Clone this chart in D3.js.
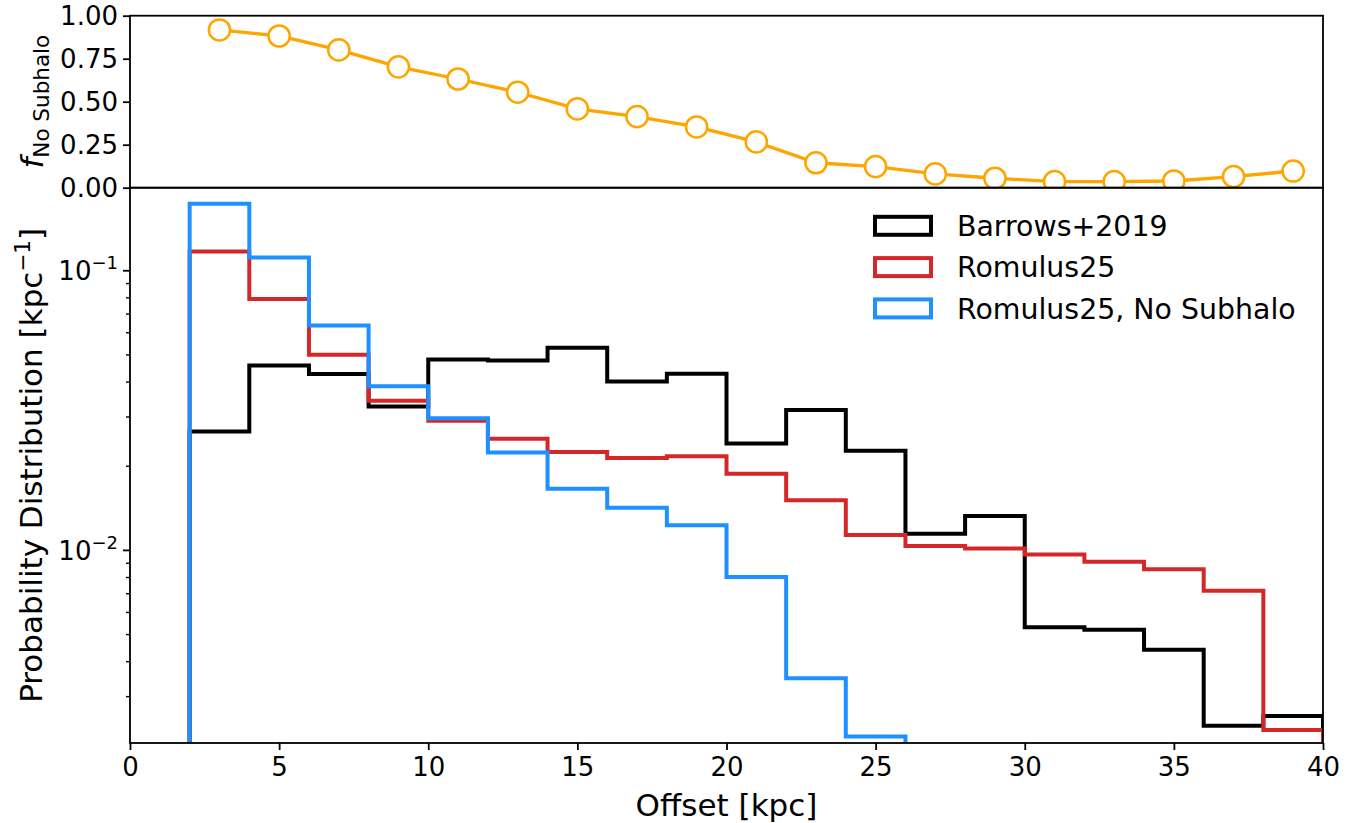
<!DOCTYPE html>
<html>
<head>
<meta charset="utf-8">
<script src="https://cdn.jsdelivr.net/npm/d3@7"></script>
<style>
  body { margin: 0; background: #fff; }
  text { font-family: "DejaVu Sans", sans-serif; fill: #000; }
</style>
</head>
<body>
<svg id="chart" width="1348" height="823"></svg>
<script>
// Histogram bin edges (kpc) and per-bin probability densities (kpc^-1)
const binEdges = [2, 4, 6, 8, 10, 12, 14, 16, 18, 20, 22, 24, 26, 28, 30, 32, 34, 36, 38, 40];
const barrows2019 = [0.0266, 0.0458, 0.0427, 0.0327, 0.0482, 0.0478, 0.0530, 0.0402, 0.0428, 0.0241,
                     0.0318, 0.0227, 0.01146, 0.01328, 0.00531, 0.00520, 0.00441, 0.00236, 0.00256];
const romulus25 = [0.1172, 0.0792, 0.0501, 0.0343, 0.0291, 0.0251, 0.0225, 0.0214, 0.0217, 0.0188,
                   0.0151, 0.01136, 0.01038, 0.01015, 0.00966, 0.00910, 0.00857, 0.00718, 0.00228];
const romulus25NoSub = [0.1737, 0.1116, 0.0637, 0.0386, 0.0297, 0.0224, 0.0166, 0.0142, 0.0123, 0.00804,
                        0.00349, 0.00216, 0, 0, 0, 0, 0, 0, 0];

// Fraction of systems with no subhalo, per bin centre
const fracCenters = [3, 5, 7, 9, 11, 13, 15, 17, 19, 21, 23, 25, 27, 29, 31, 33, 35, 37, 39];
const fracNoSubhalo = [0.917, 0.882, 0.801, 0.703, 0.632, 0.555, 0.458, 0.413, 0.353, 0.266,
                       0.145, 0.122, 0.080, 0.055, 0.035, 0.035, 0.039, 0.064, 0.097];

const xTicks = [0, 5, 10, 15, 20, 25, 30, 35, 40];
const fracTicks = [0, 0.25, 0.5, 0.75, 1.0];
const logMajorTicks = [0.1, 0.01];
const seriesNames = ["Barrows+2019", "Romulus25", "Romulus25, No Subhalo"];
const seriesColors = ["#000000", "#d62728", "#1e90ff"];
const fracColor = "#ffa500";

const svg = d3.select("#chart");
const left = 130, right = 1323;
const topY0 = 15.7, topY1 = 187.7;     // upper panel
const botY0 = 187.7, botY1 = 743;      // lower panel
const tickFont = 26, labelFont = 31, legendFont = 28.4;

const x = d3.scaleLinear().domain([0, 40]).range([left, right]);
const yFrac = d3.scaleLinear().domain([0, 1]).range([topY1, topY0]);
const yProb = d3.scaleLog().domain([Math.pow(10, -2.6887), Math.pow(10, -0.703)]).range([botY1, botY0]);

// clip regions
const defs = svg.append("defs");
defs.append("clipPath").attr("id", "clipTop")
  .append("rect").attr("x", left).attr("y", topY0).attr("width", right - left).attr("height", topY1 - topY0);
defs.append("clipPath").attr("id", "clipBot")
  .append("rect").attr("x", left).attr("y", botY0).attr("width", right - left).attr("height", botY1 - botY0);

// ---------- lower panel: step histograms ----------
const histData = [barrows2019, romulus25, romulus25NoSub];
const yOf = v => v > 0 ? yProb(v) : botY1 + 20;
function stepPath(vals) {
  const pts = [[x(binEdges[0]), botY1 + 20]];
  vals.forEach((v, i) => {
    pts.push([x(binEdges[i]), yOf(v)]);
    pts.push([x(binEdges[i + 1]), yOf(v)]);
  });
  pts.push([x(binEdges[binEdges.length - 1]), botY1 + 20]);
  return d3.line()(pts);
}
const histG = svg.append("g").attr("clip-path", "url(#clipBot)");
histData.forEach((vals, i) => {
  histG.append("path")
    .attr("d", stepPath(vals))
    .attr("fill", "none")
    .attr("stroke", seriesColors[i])
    .attr("stroke-width", 4)
    .attr("stroke-linejoin", "miter");
});

// ---------- upper panel: fraction without subhalo ----------
const topG = svg.append("g").attr("clip-path", "url(#clipTop)");
topG.append("path")
  .datum(fracCenters.map((c, i) => [c, fracNoSubhalo[i]]))
  .attr("d", d3.line().x(d => x(d[0])).y(d => yFrac(d[1])))
  .attr("fill", "none").attr("stroke", fracColor).attr("stroke-width", 3.3);
topG.selectAll("circle")
  .data(fracCenters.map((c, i) => [c, fracNoSubhalo[i]]))
  .join("circle")
  .attr("cx", d => x(d[0])).attr("cy", d => yFrac(d[1]))
  .attr("r", 10.6)
  .attr("fill", "#fff").attr("stroke", fracColor).attr("stroke-width", 2.5);

// ---------- frames ----------
const frame = (y0, y1) => svg.append("rect")
  .attr("x", left).attr("y", y0).attr("width", right - left).attr("height", y1 - y0)
  .attr("fill", "none").attr("stroke", "#000").attr("stroke-width", 1.8);
frame(topY0, topY1);
frame(botY0, botY1);

// ---------- axes ----------
// x axis (lower panel)
const xAxis = d3.axisBottom(x).tickValues(xTicks).tickSize(7).tickPadding(8).tickFormat(d3.format("d"));
const gx = svg.append("g").attr("transform", `translate(0,${botY1})`).call(xAxis);
gx.select(".domain").remove();
gx.selectAll(".tick line").attr("stroke-width", 1.8);
gx.selectAll(".tick text").attr("font-size", tickFont).attr("font-family", "DejaVu Sans");

// y axis (upper panel)
const yFracAxis = d3.axisLeft(yFrac).tickValues(fracTicks).tickSize(7).tickPadding(5).tickFormat(d3.format(".2f"));
const gyf = svg.append("g").attr("transform", `translate(${left},0)`).call(yFracAxis);
gyf.select(".domain").remove();
gyf.selectAll(".tick line").attr("stroke-width", 1.8);
gyf.selectAll(".tick text").attr("font-size", tickFont).attr("font-family", "DejaVu Sans");

// y axis (lower panel, log) — major and minor ticks
const [lo, hi] = yProb.domain();
const minorTicks = [];
[0.001, 0.01, 0.1].forEach(dec => {
  for (let k = 2; k <= 9; k++) {
    const v = k * dec;
    if (v >= lo && v <= hi) minorTicks.push(v);
  }
});
svg.append("g").selectAll("line.minor").data(minorTicks).join("line")
  .attr("x1", left - 4).attr("x2", left)
  .attr("y1", d => yProb(d)).attr("y2", d => yProb(d))
  .attr("stroke", "#000").attr("stroke-width", 1.4);
svg.append("g").selectAll("line.major").data(logMajorTicks).join("line")
  .attr("x1", left - 7).attr("x2", left)
  .attr("y1", d => yProb(d)).attr("y2", d => yProb(d))
  .attr("stroke", "#000").attr("stroke-width", 1.8);
const majLabels = svg.append("g").selectAll("text").data(logMajorTicks).join("text")
  .attr("x", left - 12).attr("y", d => yProb(d) + 9.5)
  .attr("text-anchor", "end").attr("font-size", tickFont);
majLabels.append("tspan").text("10");
majLabels.append("tspan").attr("font-size", 18).attr("dy", -11)
  .text(d => "\u2212" + Math.round(-Math.log10(d)));

// ---------- axis labels ----------
svg.append("text")
  .attr("x", (left + right) / 2).attr("y", 816)
  .attr("text-anchor", "middle").attr("font-size", labelFont)
  .text("Offset [kpc]");

const yl = svg.append("text")
  .attr("transform", `translate(42,${(botY0 + botY1) / 2}) rotate(-90)`)
  .attr("text-anchor", "middle").attr("font-size", labelFont);
yl.append("tspan").text("Probability Distribution [kpc");
yl.append("tspan").attr("font-size", 21.5).attr("dy", -12).text("\u22121");
yl.append("tspan").attr("dy", 12).text("]");

const fl = svg.append("text")
  .attr("transform", `translate(43,${(topY0 + topY1) / 2}) rotate(-90)`)
  .attr("text-anchor", "middle").attr("font-size", labelFont);
fl.append("tspan").attr("font-style", "italic").text("f");
fl.append("tspan").attr("font-size", 21.5).attr("dy", 6).text("No Subhalo");

// ---------- legend ----------
const legend = svg.append("g");
seriesNames.forEach((name, i) => {
  const cy = 225.8 + i * 41.3;
  legend.append("rect")
    .attr("x", 875).attr("y", cy - 9).attr("width", 56).attr("height", 18)
    .attr("fill", "none").attr("stroke", seriesColors[i]).attr("stroke-width", 4);
  legend.append("text")
    .attr("x", 957).attr("y", cy + 10.2)
    .attr("font-size", legendFont)
    .text(name);
});
</script>
</body>
</html>
